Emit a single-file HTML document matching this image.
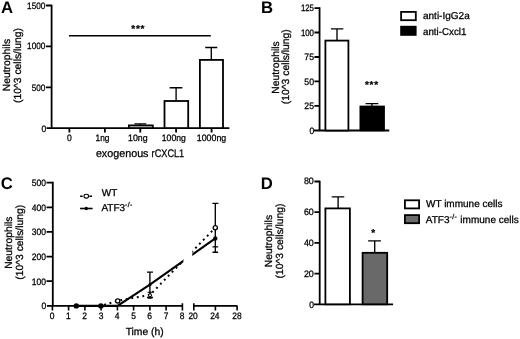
<!DOCTYPE html>
<html><head><meta charset="utf-8"><title>Figure</title>
<style>
html,body{margin:0;padding:0;background:#fff;}
svg{display:block;}
text{font-family:"Liberation Sans",Arial,sans-serif;fill:#000;text-rendering:geometricPrecision;stroke:#000;stroke-width:0.28px;}
.t{font-size:9.3px;}
.l{font-size:10px;}
.yl{font-size:10.35px;}
.p{font-size:16.7px;stroke-width:0;font-weight:bold;}
.ax{stroke:#000;stroke-width:1.8;}
path.ax{fill:none;}
.eb{stroke:#000;stroke-width:1.35;fill:none;}
</style></head>
<body>
<svg width="520" height="339" viewBox="0 0 520 339">
<defs><filter id="soft" x="0" y="0" width="520" height="339" filterUnits="userSpaceOnUse"><feGaussianBlur stdDeviation="0.38"/></filter></defs>
<rect width="520" height="339" fill="#fff"/>
<g filter="url(#soft)">

<!-- ================= Panel A ================= -->
<g id="pA">
<text class="p" x="0.9" y="13.4">A</text>
<text class="yl" text-anchor="middle" transform="translate(10.2,65.1) rotate(-90)">Neutrophils</text>
<text class="yl" text-anchor="middle" transform="translate(21,65.5) rotate(-90)">(10^3 cells/lung)</text>
<!-- axes -->
<path class="ax" d="M51.6,4.7V128.1M46.5,128.1H229.4"/>
<path class="ax" d="M45.8,5.5H51.6M45.8,46.3H51.6M45.8,87.3H51.6"/>
<path class="ax" d="M69.4,128.1V132.6M104.9,128.1V132.6M140.3,128.1V132.6M176.1,128.1V132.6M211.6,128.1V132.6"/>
<text class="t" x="45.3" y="9" text-anchor="end" textLength="18.2" lengthAdjust="spacingAndGlyphs">1500</text>
<text class="t" x="45.3" y="49.2" text-anchor="end" textLength="18.2" lengthAdjust="spacingAndGlyphs">1000</text>
<text class="t" x="45.3" y="90.5" text-anchor="end" textLength="13.6" lengthAdjust="spacingAndGlyphs">500</text>
<text class="t" x="46.3" y="131.6" text-anchor="end" textLength="4.7" lengthAdjust="spacingAndGlyphs">0</text>
<text class="t" x="69.3" y="141.1" text-anchor="middle" textLength="4.7" lengthAdjust="spacingAndGlyphs">0</text>
<text class="t" x="102.5" y="141.1" text-anchor="middle" textLength="13.9" lengthAdjust="spacingAndGlyphs">1ng</text>
<text class="t" x="137.8" y="141.1" text-anchor="middle" textLength="19.6" lengthAdjust="spacingAndGlyphs">10ng</text>
<text class="t" x="173.8" y="141.1" text-anchor="middle" textLength="23.9" lengthAdjust="spacingAndGlyphs">100ng</text>
<text class="t" x="211.5" y="141.1" text-anchor="middle" textLength="29.4" lengthAdjust="spacingAndGlyphs">1000ng</text>
<text x="95.9" y="156.6" font-size="11px" textLength="52.6" lengthAdjust="spacingAndGlyphs">exogenous</text>
<text x="151.6" y="156.6" font-size="11px" textLength="32.6" lengthAdjust="spacingAndGlyphs">rCXCL1</text>
<!-- bars -->
<path class="eb" d="M140.3,125V123.9M134.4,123.9H146.3" style="stroke-width:1.4"/>
<rect class="ax" x="128.9" y="125.4" width="23.9" height="2.7" fill="#ddd"/>
<path class="eb" d="M176.1,101V87.7M169.6,87.7H182.4"/>
<rect class="ax" x="164.5" y="101" width="23.7" height="27.1" fill="#fff"/>
<path class="eb" d="M211.3,60V47.5M205.2,47.5H217.3"/>
<rect class="ax" x="199.9" y="59.9" width="23.1" height="68.2" fill="#fff"/>
<!-- significance -->
<path d="M69,35.7H210.8" stroke="#000" stroke-width="1.6"/>
<text class="l" x="138.2" y="31.8" text-anchor="middle" font-weight="bold" letter-spacing="0.7">***</text>
</g>

<!-- ================= Panel B ================= -->
<g id="pB">
<text class="p" x="261" y="13.2">B</text>
<text class="yl" text-anchor="middle" transform="translate(279,67.5) rotate(-90)">Neutrophils</text>
<text class="yl" text-anchor="middle" transform="translate(289.4,66.7) rotate(-90)">(10^3 cells/lung)</text>
<path class="ax" d="M319.55,7.3V130.5M314,130.5H389.3"/>
<path class="ax" d="M314.4,8.1H319.7M314.4,32.5H319.7M314.4,57H319.7M314.4,81.4H319.7M314.4,105.8H319.7"/>
<text class="t" x="314" y="11.2" text-anchor="end" textLength="13.1" lengthAdjust="spacingAndGlyphs">125</text>
<text class="t" x="314" y="35.7" text-anchor="end" textLength="13.1" lengthAdjust="spacingAndGlyphs">100</text>
<text class="t" x="314" y="60.2" text-anchor="end" textLength="9.7" lengthAdjust="spacingAndGlyphs">75</text>
<text class="t" x="314" y="84.6" text-anchor="end" textLength="9.7" lengthAdjust="spacingAndGlyphs">50</text>
<text class="t" x="314" y="109" text-anchor="end" textLength="9.7" lengthAdjust="spacingAndGlyphs">25</text>
<text class="t" x="314.2" y="133.9" text-anchor="end" textLength="4.7" lengthAdjust="spacingAndGlyphs">0</text>
<path class="eb" d="M337,40.6V28.9M331,28.9H343.3"/>
<rect class="ax" x="325.4" y="40.6" width="23" height="89.9" fill="#fff"/>
<path class="eb" d="M371.9,106V103.6M365.6,103.6H378.3"/>
<rect x="359.5" y="105.6" width="25.4" height="25.6" fill="#000"/>
<text class="l" x="371.9" y="88.4" text-anchor="middle" font-weight="bold" letter-spacing="0.7">***</text>
<!-- legend -->
<rect class="ax" x="401.1" y="11.9" width="14.7" height="8.3" fill="#fff"/>
<rect x="400.2" y="25.8" width="16.4" height="10" fill="#000"/>
<text class="l" x="423" y="19.3">anti-IgG2a</text>
<text class="l" x="423" y="34.5" textLength="43.4" lengthAdjust="spacingAndGlyphs">anti-Cxcl1</text>
</g>

<!-- ================= Panel C ================= -->
<g id="pC">
<text class="p" x="0.7" y="189.2">C</text>
<text class="yl" text-anchor="middle" transform="translate(12.1,242.7) rotate(-90)">Neutrophils</text>
<text class="yl" text-anchor="middle" transform="translate(22.75,242.3) rotate(-90)">(10^3 cells/lung)</text>
<!-- data lines -->
<path d="M76.3,305.9L100.8,305.9L117.5,300.8L150,294.9L215.3,227.7" stroke="#000" stroke-width="2" stroke-dasharray="1.9 3.7" fill="none"/>
<path d="M76.3,305.9L100.8,305.9L117.4,305.9L149.9,284.7L215.3,238.3" stroke="#000" stroke-width="2.1" fill="none"/>
<rect x="183.4" y="240" width="8.9" height="40" fill="#fff"/>
<!-- error bars -->
<path class="eb" d="M149.9,272.1V297.4M147,272.1H153M147,297.4H153"/>
<path class="eb" d="M150,292.3V298.2M147.6,292.3H152.4M147.6,298.2H152.4" style="stroke-width:1.1"/>
<path class="eb" d="M215.3,203.3V252.2M212.4,203.3H218.4M212.5,252.2H218.1M212.5,246.9H218.1"/>
<!-- axes -->
<path class="ax" d="M52.8,181.8V305.9M46.9,305.9H182.4M193.6,305.9H237.5"/>
<path class="ax" d="M46.5,182.6H52.8M46.5,207.3H52.8M46.5,231.9H52.8M46.5,256.6H52.8M46.5,281.2H52.8"/>
<path class="ax" d="M52.4,305.9V310.4M68.6,305.9V310.4M84.9,305.9V310.4M101.1,305.9V310.4M117.4,305.9V310.4M133.6,305.9V310.4M149.9,305.9V310.4M166.1,305.9V310.4M182.4,303.2V310.4M193.8,303.2V310.4M215.4,305.9V310.4M237.1,305.9V310.4" style="stroke-width:1.6"/>
<!-- markers -->
<circle cx="76.3" cy="305.9" r="2.7" fill="#000"/>
<circle cx="100.9" cy="305.9" r="2.7" fill="#000"/>
<circle cx="117.7" cy="300.9" r="2.1" fill="#fff" stroke="#000" stroke-width="1.3"/>
<circle cx="150" cy="295.2" r="1.5" fill="#fff" stroke="#000" stroke-width="1.1"/>
<circle cx="149.9" cy="284.7" r="1.6" fill="#000"/>
<circle cx="215.3" cy="227.7" r="2.1" fill="#fff" stroke="#000" stroke-width="1.3"/>
<circle cx="215.3" cy="238.4" r="2.2" fill="#000"/>
<!-- tick labels -->
<text class="t" x="46" y="186.1" text-anchor="end" textLength="14.2" lengthAdjust="spacingAndGlyphs">500</text>
<text class="t" x="46" y="210.7" text-anchor="end" textLength="14.2" lengthAdjust="spacingAndGlyphs">400</text>
<text class="t" x="46" y="235.3" text-anchor="end" textLength="14.2" lengthAdjust="spacingAndGlyphs">300</text>
<text class="t" x="46" y="260" text-anchor="end" textLength="14.2" lengthAdjust="spacingAndGlyphs">200</text>
<text class="t" x="46" y="284.6" text-anchor="end" textLength="14.2" lengthAdjust="spacingAndGlyphs">100</text>
<text class="t" x="46.3" y="309.4" text-anchor="end" textLength="4.7" lengthAdjust="spacingAndGlyphs">0</text>
<text class="t" x="52.2" y="319" text-anchor="middle" textLength="4.7" lengthAdjust="spacingAndGlyphs">0</text>
<text class="t" x="68.3" y="319" text-anchor="middle" textLength="4.7" lengthAdjust="spacingAndGlyphs">1</text>
<text class="t" x="84.7" y="319" text-anchor="middle" textLength="4.7" lengthAdjust="spacingAndGlyphs">2</text>
<text class="t" x="101" y="319" text-anchor="middle" textLength="4.7" lengthAdjust="spacingAndGlyphs">3</text>
<text class="t" x="117.2" y="319" text-anchor="middle" textLength="4.7" lengthAdjust="spacingAndGlyphs">4</text>
<text class="t" x="133.5" y="319" text-anchor="middle" textLength="4.7" lengthAdjust="spacingAndGlyphs">5</text>
<text class="t" x="149.7" y="319" text-anchor="middle" textLength="4.7" lengthAdjust="spacingAndGlyphs">6</text>
<text class="t" x="166" y="319" text-anchor="middle" textLength="4.7" lengthAdjust="spacingAndGlyphs">7</text>
<text class="t" x="182.2" y="319" text-anchor="middle" textLength="4.7" lengthAdjust="spacingAndGlyphs">8</text>
<text class="t" x="193.1" y="319" text-anchor="middle" textLength="9.3" lengthAdjust="spacingAndGlyphs">20</text>
<text class="t" x="214.8" y="319" text-anchor="middle" textLength="9.3" lengthAdjust="spacingAndGlyphs">24</text>
<text class="t" x="237" y="319" text-anchor="middle" textLength="9.3" lengthAdjust="spacingAndGlyphs">28</text>
<text class="yl" x="144.7" y="335" text-anchor="middle">Time (h)</text>
<!-- legend -->
<path d="M80.1,196.2H92" stroke="#000" stroke-width="1.6" stroke-dasharray="2.6 6.7"/>
<ellipse cx="86.3" cy="196.2" rx="2.3" ry="1.9" fill="#fff" stroke="#000" stroke-width="1.1"/>
<path d="M80.1,208.5H92.6" stroke="#000" stroke-width="1.6"/>
<circle cx="86.3" cy="208.5" r="1.7" fill="#000"/>
<text class="l" x="101.7" y="196.2">WT</text>
<text class="l" x="101.4" y="210.8">ATF3<tspan font-size="7px" dy="-3.4" letter-spacing="0.3">-/-</tspan></text>
</g>

<!-- ================= Panel D ================= -->
<g id="pD">
<text class="p" x="260.7" y="189.4">D</text>
<text class="yl" text-anchor="middle" transform="translate(272.2,241.1) rotate(-90)">Neutrophils</text>
<text class="yl" text-anchor="middle" transform="translate(282.5,241) rotate(-90)">(10^3 cells/lung)</text>
<path class="ax" d="M319.7,180.7V304.3M314,304.3H393.1"/>
<path class="ax" d="M314.4,181.5H319.7M314.4,212.2H319.7M314.4,242.9H319.7M314.4,273.6H319.7"/>
<text class="t" x="313.8" y="184.4" text-anchor="end" textLength="9.9" lengthAdjust="spacingAndGlyphs">80</text>
<text class="t" x="313.8" y="215.1" text-anchor="end" textLength="9.9" lengthAdjust="spacingAndGlyphs">60</text>
<text class="t" x="313.8" y="245.8" text-anchor="end" textLength="9.9" lengthAdjust="spacingAndGlyphs">40</text>
<text class="t" x="313.8" y="276.5" text-anchor="end" textLength="9.9" lengthAdjust="spacingAndGlyphs">20</text>
<text class="t" x="314" y="307.7" text-anchor="end" textLength="4.7" lengthAdjust="spacingAndGlyphs">0</text>
<path class="eb" d="M338.1,208.4V196.8M331.7,196.8H344.3"/>
<rect class="ax" x="325.4" y="208.4" width="24.5" height="95.9" fill="#fff"/>
<path class="eb" d="M374.7,252.8V240.8M368.1,240.8H380.9"/>
<rect class="ax" x="362.6" y="252.8" width="24.6" height="51.5" fill="#696969"/>
<text class="l" x="373.3" y="236.1" text-anchor="middle" font-weight="bold">*</text>
<!-- legend -->
<rect class="ax" x="404.9" y="200.3" width="14.2" height="8.1" fill="#fff"/>
<rect class="ax" x="404.9" y="215.1" width="14.2" height="8.1" fill="#6a6a6a"/>
<text class="l" x="426" y="206.9">WT immune cells</text>
<text class="l" x="425.8" y="222.8">ATF3<tspan font-size="7px" dy="-3.4" letter-spacing="0.3">-/-</tspan><tspan x="457.6" dy="3.4"> immune cells</tspan></text>
</g>
</g>
</svg>
</body></html>
